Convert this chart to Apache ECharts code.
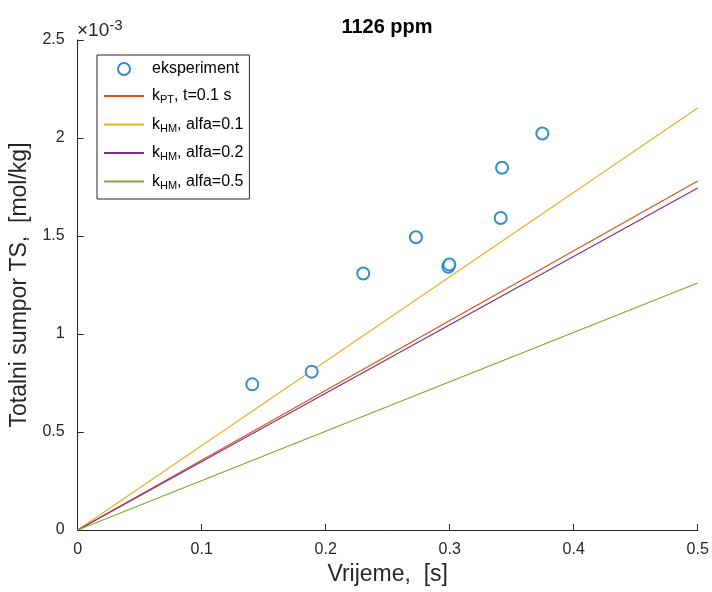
<!DOCTYPE html>
<html>
<head>
<meta charset="utf-8">
<script src="https://cdn.jsdelivr.net/npm/echarts@6/dist/echarts.min.js"></script>
<style>html,body{margin:0;padding:0;background:#fff;}#c{width:712px;height:592px;}</style>
</head>
<body>
<div id="c"></div>
<script>
// experiment points: time [s], total sulfur [mol/kg]
const expTime = [0.1408, 0.1887, 0.2303, 0.2728, 0.2989, 0.2997, 0.3411, 0.3422, 0.3747];
const expTS   = [0.743e-3, 0.808e-3, 1.309e-3, 1.494e-3, 1.343e-3, 1.355e-3, 1.592e-3, 1.848e-3, 2.023e-3];
// model lines: time endpoints and values
const modelTime = [0, 0.5];
const kPT_01   = [0, 1.781e-3];
const kHM_01   = [0, 2.153e-3];
const kHM_02   = [0, 1.745e-3];
const kHM_05   = [0, 1.260e-3];
const yTicks = ['0', '0.5', '1', '1.5', '2', '2.5'];
const xTicks = ['0', '0.1', '0.2', '0.3', '0.4', '0.5'];

const font = 'Liberation Sans, Arial, Helvetica, sans-serif';
const axisColor = '#262626';
const pairs = (xs, ys) => xs.map((x, i) => [x, ys[i]]);

const chart = echarts.init(document.getElementById('c'), null, {renderer: 'canvas'});
const lineSeries = (name, ys, color) => ({
  name, type: 'line', data: pairs(modelTime, ys), symbol: 'none', showSymbol: false,
  lineStyle: {color, width: 1.2}, itemStyle: {color}, animation: false, z: 2
});
const hiddenSym = {opacity: 0};
chart.setOption({
  animation: false,
  backgroundColor: '#fff',
  title: {
    text: '1126 ppm', left: 382, top: 12, textAlign: 'center',
    textStyle: {fontFamily: font, fontSize: 20, fontWeight: 'bold', color: '#000'}
  },
  grid: {left: 77.7, right: 14.3, top: 40, bottom: 62},
  graphic: [{
    type: 'text', left: 77, top: 18,
    style: {
      text: '×10{sup|-3}', font: '19px ' + font, fill: axisColor,
      rich: {sup: {fontSize: 15, verticalAlign: 'top', padding: [0, 0, 10, 0], fontFamily: font, fill: axisColor}}
    }
  }],
  legend: {
    orient: 'vertical', left: 97, top: 55,
    backgroundColor: '#fff', borderColor: axisColor, borderWidth: 1,
    padding: [6, 6, 8, 6], itemGap: 11, itemWidth: 40, itemHeight: 12,
    textStyle: {
      fontFamily: font, fontSize: 16, color: '#000', padding: [0, 0, 0, 3],
      rich: {sub: {fontSize: 11, verticalAlign: 'bottom', padding: [8, 0, 0, 0], fontFamily: font, color: '#000'}}
    },
    data: [
      {name: 'eksperiment', icon: 'emptyCircle'},
      {name: 'kPT', itemStyle: hiddenSym},
      {name: 'kHM01', itemStyle: hiddenSym},
      {name: 'kHM02', itemStyle: hiddenSym},
      {name: 'kHM05', itemStyle: hiddenSym}
    ],
    formatter: function (n) {
      return {
        'eksperiment': 'eksperiment',
        'kPT': 'k{sub|PT}, t=0.1 s',
        'kHM01': 'k{sub|HM}, alfa=0.1',
        'kHM02': 'k{sub|HM}, alfa=0.2',
        'kHM05': 'k{sub|HM}, alfa=0.5'
      }[n];
    }
  },
  xAxis: {
    type: 'value', min: 0, max: 0.5, interval: 0.1,
    name: 'Vrijeme,  [s]', nameLocation: 'middle', nameGap: 32,
    nameTextStyle: {fontFamily: font, fontSize: 23, color: axisColor},
    axisLine: {show: true, lineStyle: {color: axisColor, width: 1}},
    axisTick: {show: true, inside: true, length: 6, lineStyle: {color: axisColor}},
    axisLabel: {fontFamily: font, fontSize: 16, color: axisColor, margin: 12,
      formatter: v => xTicks[Math.round(v * 10)]},
    splitLine: {show: false}
  },
  yAxis: {
    type: 'value', min: 0, max: 0.0025, interval: 0.0005,
    name: 'Totalni sumpor TS,  [mol/kg]', nameLocation: 'middle', nameGap: 40,
    nameTextStyle: {fontFamily: font, fontSize: 23, color: axisColor},
    axisLine: {show: true, lineStyle: {color: axisColor, width: 1}},
    axisTick: {show: true, inside: true, length: 6, lineStyle: {color: axisColor}},
    axisLabel: {fontFamily: font, fontSize: 16, color: axisColor, margin: 13,
      formatter: v => yTicks[Math.round(v / 0.0005)]},
    splitLine: {show: false}
  },
  series: [
    {
      name: 'eksperiment', type: 'scatter', data: pairs(expTime, expTS),
      symbol: 'emptyCircle', symbolSize: 12,
      itemStyle: {color: '#0072BD', borderColor: '#0072BD', borderWidth: 1.5},
      z: 3
    },
    lineSeries('kPT', kPT_01, '#D95319'),
    lineSeries('kHM01', kHM_01, '#EDB120'),
    lineSeries('kHM02', kHM_02, '#7E2F8E'),
    lineSeries('kHM05', kHM_05, '#77AC30')
  ]
});
</script>
</body>
</html>
